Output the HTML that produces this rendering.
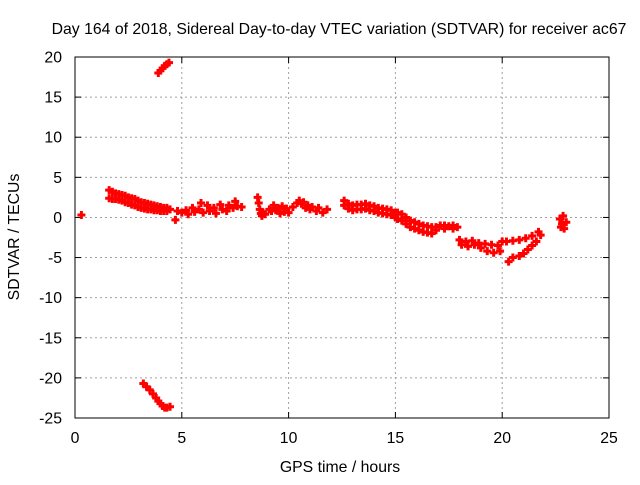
<!DOCTYPE html>
<html><head><meta charset="utf-8"><style>
body{margin:0;background:#fff}
svg{font-family:"Liberation Sans",sans-serif;font-size:15.8px}
</style></head><body>
<svg id="chart" width="640" height="480">
<rect width="640" height="480" fill="#fff"/>
<text x="339" y="34" text-anchor="middle">Day 164 of 2018, Sidereal Day-to-day VTEC variation (SDTVAR) for receiver ac67</text>
<text x="340" y="472" text-anchor="middle">GPS time / hours</text>
<text transform="translate(19,237) rotate(-90)" text-anchor="middle">SDTVAR / TECUs</text>
<g id="grid"></g><g id="ticks"></g><g id="marks"></g>
<rect x="75" y="57" width="534" height="361" fill="none" stroke="#000"/>
</svg>
<script>
const xTicks=[0,5,10,15,20,25];
const yTicks=[20,15,10,5,0,-5,-10,-15,-20,-25];
const gpsHours=[0.3,
1.6,1.6,1.75,1.75,1.9,1.9,2.05,2.05,2.2,2.2,2.35,2.35,2.5,2.5,2.65,2.65,2.8,2.8,2.95,2.95,3.1,3.1,3.25,3.25,3.4,3.4,3.55,3.55,3.7,3.7,3.85,3.85,4.0,4.0,4.15,4.15,4.3,4.3,4.45,
3.9,4.0,4.1,4.2,4.3,4.4,
3.2,3.35,3.5,3.65,3.8,3.9,4.0,4.1,4.2,4.3,4.45,
4.7,4.8,5.0,5.2,5.3,5.5,5.6,5.8,5.9,6.0,6.2,6.3,6.5,6.6,6.8,6.9,7.1,7.2,7.4,7.5,7.6,7.8,
8.55,8.6,8.65,8.7,8.75,8.8,8.9,
9.1,9.2,9.3,9.4,9.5,9.6,9.7,9.8,9.9,10.0,10.2,10.4,10.5,10.6,10.7,10.8,10.9,11.0,11.1,11.3,11.4,11.6,11.8,
12.6,12.6,12.8,12.8,13.0,13.0,13.2,13.2,13.4,13.4,13.6,13.6,13.8,13.8,14.0,14.0,14.2,14.2,14.4,14.4,14.6,14.6,14.8,14.8,15.0,15.0,
15.1,15.1,15.3,15.3,15.5,15.5,15.7,15.7,15.9,15.9,16.1,16.1,16.3,16.3,16.5,16.5,16.7,16.7,
16.9,17.1,17.3,17.5,17.7,17.9,16.9,17.3,17.7,
18.0,18.3,18.6,18.9,19.2,19.5,19.8,20.0,18.1,18.4,18.7,19.0,19.3,19.6,19.9,
20.2,20.5,20.8,21.1,21.4,21.7,20.3,20.5,20.8,21.0,21.2,21.4,21.6,21.8,
22.7,22.8,22.9,22.75,22.85,23.0];
const sdtvar=[0.3,
3.4,2.4,3.2,2.3,3.0,2.3,2.9,2.2,2.8,2.1,2.7,1.9,2.5,1.8,2.4,1.6,2.3,1.5,2.1,1.3,1.9,1.2,1.8,1.1,1.7,1.0,1.6,1.0,1.5,0.9,1.4,0.9,1.3,0.8,1.2,0.8,1.2,0.8,1.0,
18.0,18.3,18.6,18.9,19.1,19.3,
-20.7,-21.1,-21.5,-22.0,-22.5,-22.9,-23.2,-23.5,-23.7,-23.7,-23.6,
-0.3,0.8,0.6,0.9,0.4,1.2,0.7,1.0,1.8,0.6,1.5,0.8,1.2,0.5,1.6,1.0,0.8,1.5,1.2,2.0,1.4,1.3,
2.5,1.8,1.0,0.5,0.2,0.6,0.4,
1.0,0.8,1.5,0.9,1.2,0.5,1.4,0.7,1.1,0.6,1.3,1.8,2.1,1.7,1.9,1.2,1.5,1.0,1.3,0.8,1.2,0.6,1.0,
2.1,1.5,1.7,1.1,1.5,0.9,1.6,1.0,1.6,1.0,1.7,1.1,1.5,0.9,1.4,0.8,1.2,0.6,1.1,0.5,1.0,0.4,0.9,0.3,0.6,0.0,
0.6,-0.2,0.4,-0.4,0.0,-0.8,-0.4,-1.2,-0.6,-1.4,-0.8,-1.6,-1.0,-1.8,-1.1,-1.9,-1.2,-2.0,
-1.2,-1.0,-1.0,-1.1,-1.0,-1.2,-1.6,-1.4,-1.4,
-2.8,-3.0,-2.9,-3.2,-3.3,-3.4,-3.5,-3.0,-3.4,-3.6,-3.4,-3.8,-4.2,-4.4,-4.2,
-3.0,-2.9,-2.8,-2.6,-2.3,-1.8,-5.5,-5.0,-4.8,-4.5,-4.0,-3.5,-3.0,-2.2,
-0.2,-0.8,-1.4,-1.2,0.2,-0.6];
const NS='http://www.w3.org/2000/svg';
const X=h=>75+(h-0)*534/25;
const Y=v=>57+(20-v)*361/45;
function mk(tag,parent,attrs){const e=document.createElementNS(NS,tag);for(const k in attrs)e.setAttribute(k,attrs[k]);parent.appendChild(e);return e;}
const grid=document.getElementById('grid'),ticks=document.getElementById('ticks'),marks=document.getElementById('marks');
xTicks.forEach(t=>{
  const x=X(t);
  if(t>0&&t<25){const g=mk('line',grid,{x1:x,x2:x,y1:57,y2:418,stroke:'#a0a0a0','stroke-dasharray':'2,3'});
  
  }
  mk('line',ticks,{x1:x,x2:x,y1:418,y2:412,stroke:'#000'});
  mk('line',ticks,{x1:x,x2:x,y1:57,y2:63,stroke:'#000'});
  const l=mk('text',ticks,{x:x,y:443,'text-anchor':'middle'});l.textContent=t;
  
  
});
yTicks.forEach(t=>{
  const y=Y(t);
  if(t<20&&t>-25){const g=mk('line',grid,{x1:75,x2:609,y1:y,y2:y,stroke:'#a0a0a0','stroke-dasharray':'2,3'});
  
  }
  mk('line',ticks,{x1:75,x2:81,y1:y,y2:y,stroke:'#000'});
  mk('line',ticks,{x1:609,x2:603,y1:y,y2:y,stroke:'#000'});
  const l=mk('text',ticks,{x:62,y:y+5.5,'text-anchor':'end'});l.textContent=t;
  
  
});
gpsHours.forEach((h,i)=>{
  const x=X(h),y=Y(sdtvar[i]);
  const p=mk('path',marks,{d:`M${x-4},${y}H${x+4}M${x},${y-4}V${y+4}`,stroke:'#ff0000','stroke-width':3});
  
  
});
</script>
</body></html>
